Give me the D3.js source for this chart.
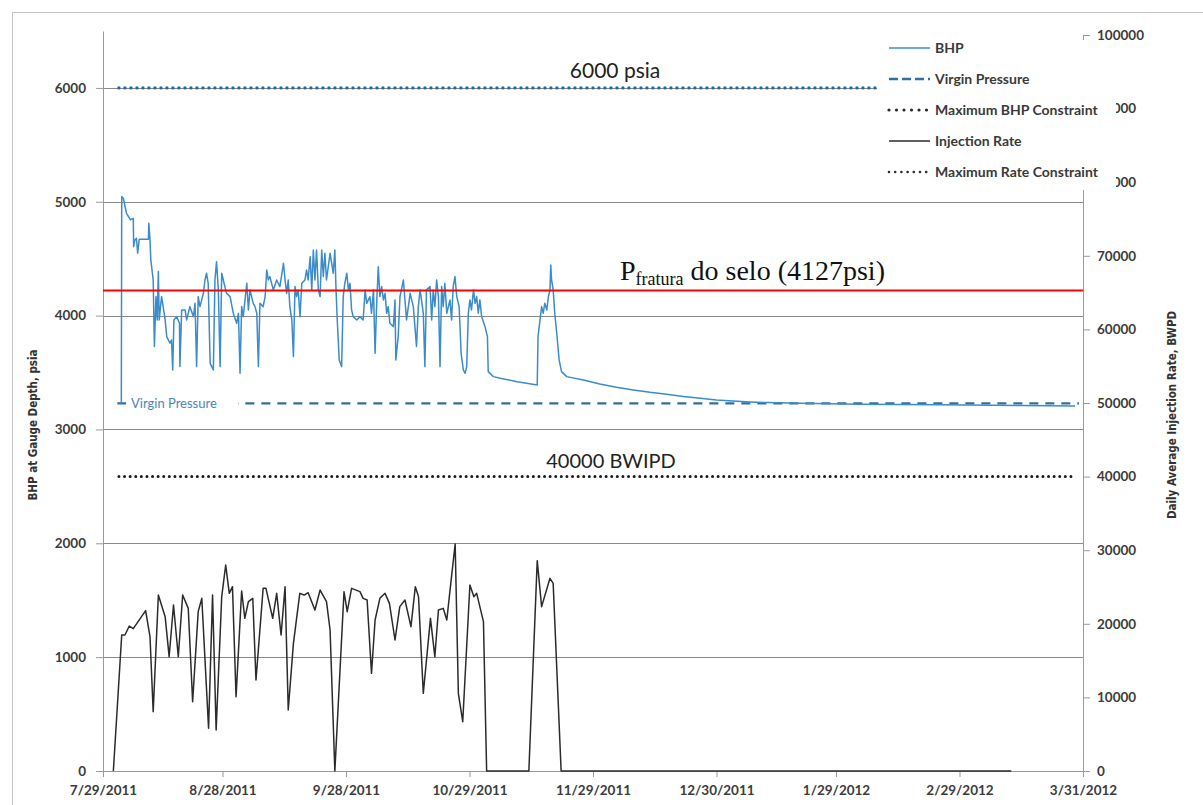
<!DOCTYPE html>
<html>
<head>
<meta charset="utf-8">
<script src="https://cdn.jsdelivr.net/npm/d3@7"></script>
<style>
  body { margin: 0; background: #fff; }
</style>
</head>
<body>
<script>
// day 0 = 7/29/2011
const startDate = Date.UTC(2011, 6, 29)
const endDate = Date.UTC(2012, 2, 31)

const tickDates = ['2011-07-29', '2011-08-28', '2011-09-28', '2011-10-29', '2011-11-29',
  '2011-12-30', '2012-01-29', '2012-02-29', '2012-03-31']
const psiTicks = [0, 1000, 2000, 3000, 4000, 5000, 6000]
const rateTicks = [0, 10000, 20000, 30000, 40000, 50000, 60000, 70000, 80000, 90000, 100000]

// [day, psi]
const bhpSeries = [
  [4.0, 3235], [4.6, 3235], [4.7, 5045], [5.1, 5031], [5.9, 4899], [6.9, 4841], [7.6, 4855], [7.7, 4606],
  [8.0, 4665], [8.4, 4679], [8.7, 4548], [9.1, 4671], [11.4, 4671], [11.5, 4811], [11.8, 4665], [12.0, 4489],
  [12.6, 4313], [12.9, 3728], [13.3, 4167], [13.6, 3962], [13.9, 4387], [14.1, 3962], [14.7, 4167], [15.1, 4079],
  [15.6, 3962], [16.0, 3816], [16.8, 3757], [17.2, 3786], [17.5, 3523], [17.8, 3962], [18.5, 3991], [19.2, 3933],
  [19.3, 3552], [19.75, 4050], [20.6, 4050], [21.0, 3962], [21.8, 4079], [22.7, 3991], [23.1, 4108], [23.5, 3552],
  [23.9, 4167], [24.35, 4079], [25.2, 4196], [25.6, 4313], [26.0, 4372], [26.4, 4284], [26.9, 3581], [27.7, 3523],
  [28.1, 4313], [28.5, 4474], [28.95, 4226], [29.4, 3552], [29.8, 4372], [30.2, 4313], [31.0, 4196], [31.9, 4167],
  [32.7, 4021], [33.55, 3933], [34.0, 4021], [34.4, 3493], [34.8, 4079], [35.2, 3991], [36.1, 4284], [36.5, 4050],
  [36.9, 4226], [37.7, 4108], [38.15, 4079], [38.6, 4021], [39.0, 3552], [39.4, 4108], [40.2, 4079], [40.7, 4167],
  [41.1, 4401], [41.5, 4313], [41.9, 4343], [42.75, 4226], [43.6, 4313], [44.4, 4255], [45.3, 4460], [45.7, 4313],
  [46.1, 4196], [46.5, 4313], [46.9, 4079], [47.4, 3962], [47.8, 3640], [48.2, 4255], [48.6, 4167], [49.0, 4226],
  [49.45, 3991], [49.9, 4284], [50.7, 4313], [51.1, 4401], [51.5, 4313], [52.0, 4518], [52.4, 4226], [52.8, 4577],
  [53.2, 4313], [53.6, 4577], [54.05, 4226], [54.5, 4167], [54.9, 4577], [55.3, 4343], [55.7, 4548], [56.1, 4313],
  [57.0, 4548], [57.8, 4372], [58.2, 4577], [58.5, 4226], [58.8, 3962], [59.3, 3611], [59.9, 3552], [60.3, 4167],
  [60.7, 4284], [61.2, 4372], [61.6, 4226], [62.0, 4284], [62.4, 4050], [62.8, 3991], [63.7, 3962], [64.5, 3991],
  [65.3, 3962], [65.8, 4226], [66.2, 4108], [67.0, 4167], [67.4, 4021], [67.9, 4226], [68.3, 3669], [68.7, 4108],
  [69.1, 4430], [69.5, 4167], [69.95, 4255], [70.4, 4138], [70.8, 4196], [71.2, 4021], [71.6, 4079], [72.0, 3933],
  [72.9, 3903], [73.3, 4138], [73.5, 3611], [74.1, 3816], [74.55, 4167], [75.4, 4313], [76.2, 3962], [77.1, 4196],
  [77.9, 4079], [78.7, 3728], [79.15, 4079], [79.6, 4226], [80.4, 4021], [80.8, 3552], [81.2, 4226], [82.1, 4255],
  [82.5, 3962], [82.9, 4226], [83.3, 4079], [83.75, 4313], [84.2, 4167], [84.6, 3552], [85.0, 4255], [85.4, 4079],
  [85.8, 4284], [86.3, 4021], [87.1, 4138], [87.5, 3962], [87.9, 4255], [88.35, 4343], [88.8, 4167], [89.4, 4079],
  [89.9, 3669], [90.45, 3523], [90.9, 3493], [91.3, 3552], [91.7, 4021], [92.1, 4138], [92.5, 4050], [93.0, 4226],
  [93.4, 4108], [93.8, 4167], [94.2, 4021], [94.6, 4138], [95.05, 3991], [95.9, 3903], [96.5, 3816], [96.7, 3508],
  [98.0, 3464], [99.7, 3450], [103.9, 3420], [106.3, 3406], [109.0, 3391], [109.2, 3816], [109.7, 3962], [110.1, 4079],
  [110.5, 4021], [110.9, 4108], [111.4, 4050], [111.8, 4167], [112.2, 4226], [112.4, 4445], [112.6, 4313], [113.0, 4226],
  [113.4, 4021], [113.9, 3845], [114.5, 3611], [115.1, 3508], [116.4, 3464], [120.6, 3435], [124.7, 3400], [128.9, 3370],
  [133.1, 3347], [137.3, 3326], [141.5, 3309], [145.7, 3289], [149.9, 3274], [154.0, 3259], [158.2, 3250], [162.4, 3242],
  [166.6, 3236], [175.0, 3230], [190, 3222], [210, 3216], [230, 3210], [244, 3205]
]

// [day, BWPD]
const injSeries = [
  [2.6, 0], [4.7, 18480], [5.5, 18480], [6.6, 19700], [7.6, 19340], [10.7, 21785], [11.8, 18250], [12.6, 8060],
  [13.9, 23910], [15.6, 20970], [16.6, 15530], [17.7, 22550], [18.9, 15530], [20.0, 23910], [21.4, 22100],
  [22.5, 9420], [23.9, 21650], [24.8, 23460], [26.5, 5800], [27.5, 23910], [28.4, 5570], [29.8, 23690],
  [30.8, 27990], [31.7, 24140], [32.5, 25045], [33.4, 10100], [34.8, 24460], [35.6, 20740], [36.5, 23010],
  [37.6, 23460], [38.4, 12360], [40.2, 24820], [40.9, 24820], [42.6, 20740], [43.6, 24140], [44.7, 18480],
  [45.7, 25045], [46.5, 8290], [47.8, 17350], [49.4, 24140], [50.5, 23910], [51.5, 24230], [53.2, 21875],
  [54.5, 24590], [56.1, 23010], [57.0, 19160], [58.2, 0], [60.5, 24370], [61.3, 21650], [62.4, 24820],
  [64.5, 24370], [65.3, 23460], [66.3, 23230], [67.4, 13270], [68.3, 20520], [69.5, 23460], [70.8, 24140],
  [71.9, 22780], [73.3, 17800], [74.5, 22330], [75.8, 23230], [77.3, 19610], [78.4, 25045], [79.2, 23690],
  [80.4, 10550], [82.2, 20740], [83.3, 15530], [84.2, 21875], [85.4, 22100], [86.3, 20520], [87.3, 25500],
  [88.4, 30840], [89.2, 10550], [90.3, 6700], [92.1, 25270], [93.1, 23690], [93.8, 24140], [95.5, 20290],
  [96.3, 0], [106.9, 0], [109.0, 28580], [110.1, 22330], [112.2, 26180], [113.0, 25500], [115.0, 0], [228, 0]
]

const virginPsi = 3230
const maxBhpPsi = 6000
const maxRate = 40000
const fracPsi = 4220
const constraintDays = [4, 243]

const legendItems = ['BHP', 'Virgin Pressure', 'Maximum BHP Constraint', 'Injection Rate', 'Maximum Rate Constraint']

const width = 1203
const height = 805
const plot = { left: 103, right: 1083, top: 33, bottom: 771 }

const blue = '#3a8ccb'
const darkBlue = '#2f6ea6'
const axisGray = '#9a9a9a'
const labelFont = 'Lato, "Open Sans", sans-serif'

const dayToDate = d => new Date(startDate + d * 864e5)

const svg = d3.select('body').append('svg')
  .attr('width', width)
  .attr('height', height)
  .style('font-family', labelFont)

svg.append('rect')
  .attr('x', 12.5).attr('y', 12.5)
  .attr('width', width).attr('height', height)
  .attr('fill', 'none').attr('stroke', '#c4c4c4')

const x = d3.scaleUtc().domain([new Date(startDate), new Date(endDate)]).range([plot.left, plot.right])
const yL = d3.scaleLinear().domain([0, 6500]).range([plot.bottom, 31])
const yR = d3.scaleLinear().domain([0, 100000]).range([plot.bottom, 35])

// gridlines
svg.append('g')
  .selectAll('line')
  .data(psiTicks.filter(v => v > 0))
  .enter().append('line')
  .attr('x1', plot.left).attr('x2', plot.right)
  .attr('y1', d => Math.round(yL(d)) + 0.5).attr('y2', d => Math.round(yL(d)) + 0.5)
  .attr('stroke', '#8a8a8a').attr('stroke-width', 1)

function styleAxis(g) {
  g.select('.domain').attr('stroke', axisGray)
  g.selectAll('.tick line').attr('stroke', axisGray)
  g.selectAll('.tick text')
    .attr('fill', '#3c3c3c')
    .style('font-family', labelFont)
    .style('font-size', '13.5px')
    .style('font-weight', 'bold')
}

const parseDay = d3.utcParse('%Y-%m-%d')
const fmtDay = d3.utcFormat('%-m/%-d/%Y')

svg.append('g')
  .attr('transform', `translate(0,${plot.bottom})`)
  .call(d3.axisBottom(x).tickValues(tickDates.map(parseDay)).tickFormat(fmtDay).tickSize(6).tickSizeOuter(0).tickPadding(8))
  .call(styleAxis)

svg.append('g')
  .attr('transform', `translate(${plot.left},0)`)
  .call(d3.axisLeft(yL).tickValues(psiTicks).tickFormat(d3.format('d')).tickSize(7).tickSizeOuter(0).tickPadding(10))
  .call(styleAxis)

svg.append('g')
  .attr('transform', `translate(${plot.right},0)`)
  .call(d3.axisRight(yR).tickValues(rateTicks).tickFormat(d3.format('d')).tickSize(7).tickSizeOuter(0).tickPadding(7))
  .call(styleAxis)

// axis titles
svg.append('text')
  .attr('transform', `translate(37,${425}) rotate(-90)`)
  .attr('text-anchor', 'middle')
  .style('font-family', '"Liberation Sans Narrow", "DejaVu Sans Condensed", sans-serif')
  .style('font-size', '11.5px').style('font-weight', 'bold')
  .attr('fill', '#333')
  .text('BHP at Gauge Depth, psia')

svg.append('text')
  .attr('transform', `translate(1176,${415}) rotate(-90)`)
  .attr('text-anchor', 'middle')
  .style('font-family', '"Liberation Sans Narrow", "DejaVu Sans Condensed", sans-serif')
  .style('font-size', '11.5px').style('font-weight', 'bold')
  .attr('fill', '#333')
  .text('Daily Average Injection Rate, BWPD')

// constraint lines
svg.append('line')
  .attr('x1', x(dayToDate(constraintDays[0]))).attr('x2', x(dayToDate(constraintDays[1])))
  .attr('y1', yL(maxBhpPsi)).attr('y2', yL(maxBhpPsi))
  .attr('stroke', '#2565a3').attr('stroke-width', 3.4)
  .attr('stroke-linecap', 'round').attr('stroke-dasharray', '0,6')

svg.append('line')
  .attr('x1', x(dayToDate(constraintDays[0]))).attr('x2', x(dayToDate(constraintDays[1])))
  .attr('y1', yR(maxRate)).attr('y2', yR(maxRate))
  .attr('stroke', '#1a1a1a').attr('stroke-width', 3)
  .attr('stroke-linecap', 'round').attr('stroke-dasharray', '0,5.6')

svg.append('line')
  .attr('x1', x(dayToDate(3.6))).attr('x2', x(dayToDate(245)))
  .attr('y1', yL(virginPsi)).attr('y2', yL(virginPsi))
  .attr('stroke', darkBlue).attr('stroke-width', 2.2)
  .attr('stroke-dasharray', '9,7')

// virgin pressure label with white backing
const vpY = yL(virginPsi)
svg.append('rect')
  .attr('x', 126).attr('y', vpY - 9).attr('width', 112).attr('height', 17)
  .attr('fill', '#fff')
svg.append('text')
  .attr('x', 131).attr('y', vpY + 5)
  .style('font-size', '13px')
  .attr('fill', '#4a86bb')
  .text('Virgin Pressure')

// injection rate
const injLine = d3.line()
  .x(d => x(dayToDate(d[0])))
  .y(d => yR(d[1]))

svg.append('path')
  .datum(injSeries)
  .attr('d', injLine)
  .attr('fill', 'none')
  .attr('stroke', '#2b2b2b')
  .attr('stroke-width', 1.5)
  .attr('stroke-linejoin', 'round')

// BHP
const bhpLine = d3.line()
  .x(d => x(dayToDate(d[0])))
  .y(d => yL(d[1]))

svg.append('path')
  .datum(bhpSeries)
  .attr('d', bhpLine)
  .attr('fill', 'none')
  .attr('stroke', blue)
  .attr('stroke-width', 1.5)
  .attr('stroke-linejoin', 'round')

// seal fracture pressure
svg.append('line')
  .attr('x1', plot.left).attr('x2', plot.right)
  .attr('y1', yL(fracPsi)).attr('y2', yL(fracPsi))
  .attr('stroke', '#ff0000').attr('stroke-width', 2)

const frac = svg.append('text')
  .attr('x', 620).attr('y', yL(fracPsi) - 11)
  .style('font-family', '"Liberation Serif", "Times New Roman", serif')
  .style('font-size', '28px')
  .attr('fill', '#111')
frac.append('tspan').text('P')
frac.append('tspan').attr('dy', 5).style('font-size', '18px').text('fratura')
frac.append('tspan').attr('dy', -5).text(' do selo (4127psi)')

// constraint annotations
svg.append('text')
  .attr('x', 615).attr('y', yL(maxBhpPsi) - 10)
  .attr('text-anchor', 'middle')
  .style('font-size', '21px')
  .attr('fill', '#222')
  .text('6000 psia')

svg.append('text')
  .attr('x', 611).attr('y', yR(maxRate) - 9)
  .attr('text-anchor', 'middle')
  .style('font-size', '20px')
  .attr('fill', '#222')
  .text('40000 BWIPD')

// legend (covers upper right axis labels like the original)
const legend = svg.append('g')
legend.append('rect')
  .attr('x', 877).attr('y', 40).attr('width', 239).attr('height', 150)
  .attr('fill', '#fff')

const legendRow = d3.scaleLinear().domain([0, legendItems.length - 1]).range([48, 172])
const legendSample = [
  { stroke: blue, width: 1.3, dash: null, cap: 'butt' },
  { stroke: darkBlue, width: 2.4, dash: '9,4', cap: 'butt' },
  { stroke: '#2a2a2a', width: 3.2, dash: '0,7.5', cap: 'round' },
  { stroke: '#2b2b2b', width: 1.6, dash: null, cap: 'butt' },
  { stroke: '#2a2a2a', width: 2.6, dash: '0,6.2', cap: 'round' }
]

legendItems.forEach((name, i) => {
  const yy = legendRow(i)
  const s = legendSample[i]
  legend.append('line')
    .attr('x1', 889).attr('x2', 930)
    .attr('y1', yy).attr('y2', yy)
    .attr('stroke', s.stroke).attr('stroke-width', s.width)
    .attr('stroke-linecap', s.cap)
    .attr('stroke-dasharray', s.dash)
  legend.append('text')
    .attr('x', 935).attr('y', yy + 5)
    .style('font-size', '14px').style('font-weight', 'bold')
    .attr('fill', '#3a3a3a')
    .text(name)
})
</script>
</body>
</html>
